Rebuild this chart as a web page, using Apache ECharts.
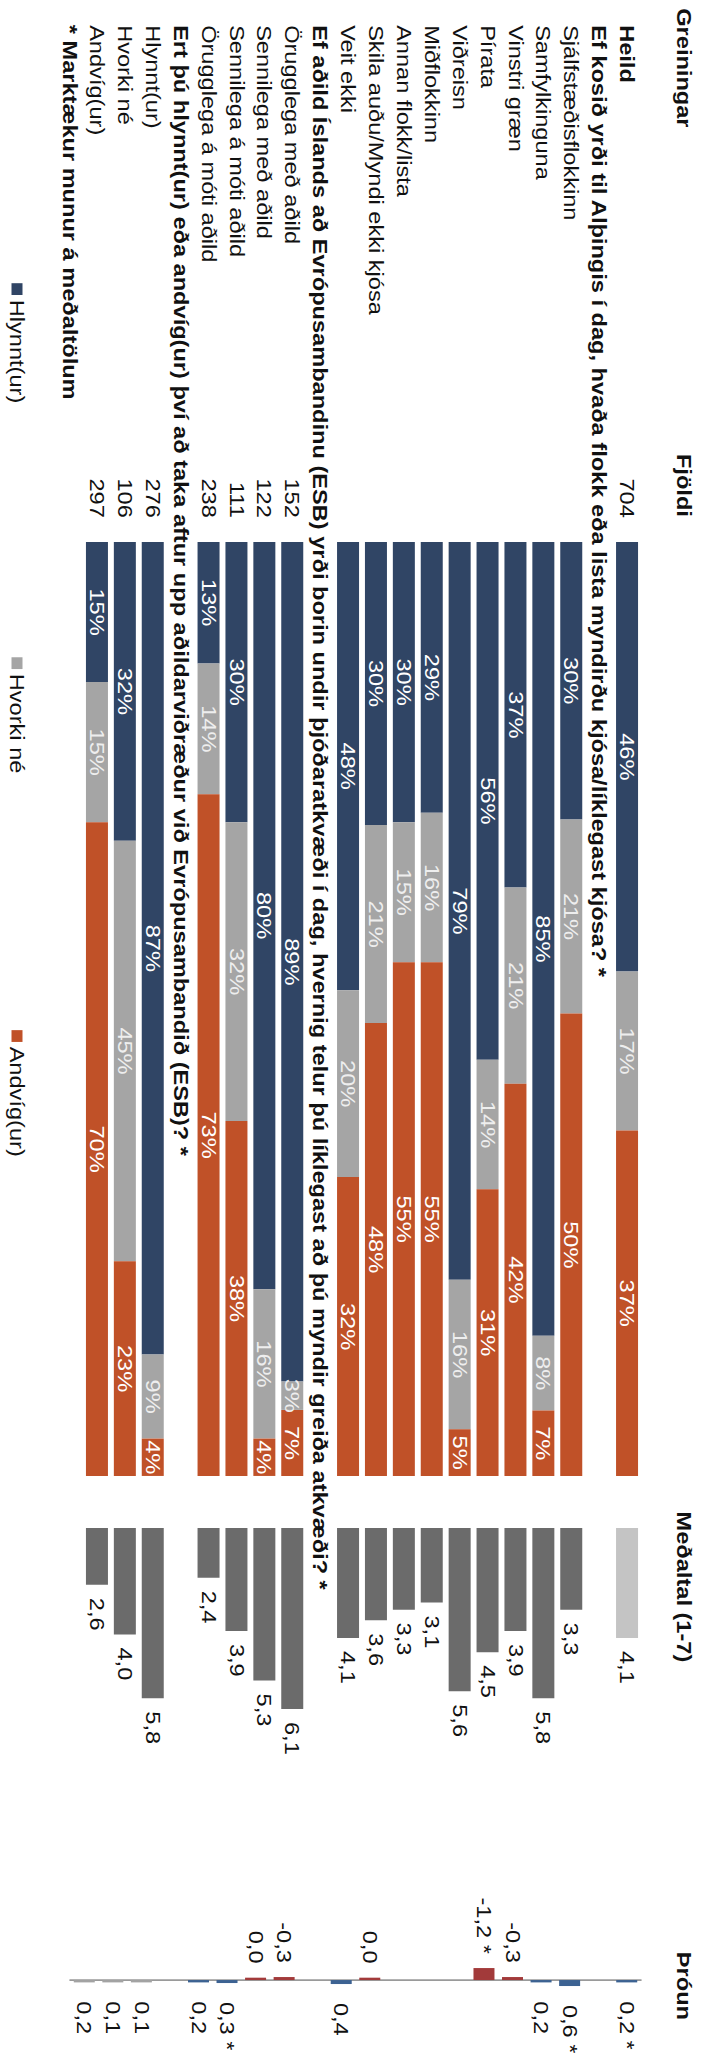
<!DOCTYPE html>
<html><head><meta charset="utf-8">
<script src="https://cdn.jsdelivr.net/npm/echarts@6/dist/echarts.min.js"></script>
<style>
html,body{margin:0;padding:0;background:#fff;overflow:hidden;width:707px;height:2071px;}
#wrap{position:absolute;left:0;top:0;width:1755px;height:707px;transform-origin:0 0;transform:translate(707px,0) rotate(90deg) scale(1.18,1);}
</style></head><body>
<div id="wrap"></div>
<script>
const categories = [
  'Heild',
  'Ef kosið yrði til Alþingis í dag, hvaða flokk eða lista myndirðu kjósa/líklegast kjósa? *',
  'Sjálfstæðisflokkinn','Samfylkinguna','Vinstri græn','Pírata','Viðreisn','Miðflokkinn',
  'Annan flokk/lista','Skila auðu/Myndi ekki kjósa','Veit ekki',
  'Ef aðild Íslands að Evrópusambandinu (ESB) yrði borin undir þjóðaratkvæði í dag, hvernig telur þú líklegast að þú myndir greiða atkvæði? *',
  'Örugglega með aðild','Sennilega með aðild','Sennilega á móti aðild','Örugglega á móti aðild',
  'Ert þú hlynnt(ur) eða andvíg(ur) því að taka aftur upp aðildarviðræður við Evrópusambandið (ESB)? *',
  'Hlynnt(ur)','Hvorki né','Andvíg(ur)'
];
const boldRows = [0, 1, 11, 16];
const counts  = [704,null,null,null,null,null,null,null,null,null,null,null,152,122,111,238,null,276,106,297];
const hlynnt  = [46,null,30,85,37,56,79,29,30,30,48,null,89,80,30,13,null,87,32,15];
const hvorki  = [17,null,21,8,21,14,16,16,15,21,20,null,3,16,32,14,null,9,45,15];
const andvig  = [37,null,50,7,42,31,5,55,55,48,32,null,7,4,38,73,null,4,23,70];
const medaltal = [4.1,null,3.3,5.8,3.9,4.5,5.6,3.1,3.3,3.6,4.1,null,6.1,5.3,3.9,2.4,null,5.8,4.0,2.6];
const throun   = [0.2,null,0.6,0.2,-0.3,-1.2,null,null,null,-0.04,0.4,null,-0.3,-0.04,0.3,0.2,null,0.1,0.1,0.2];
const throunSig = [true,false,true,false,false,true,false,false,false,false,false,false,false,false,true,false,false,false,false,false];
const seriesNames = ['Hlynnt(ur)','Hvorki né','Andvíg(ur)'];
const headers = {title:'Greiningar', count:'Fjöldi', mean:'Meðaltal (1-7)', trend:'Þróun', note:'* Marktækur munur á meðaltölum'};

const FONT = "'Liberation Sans', Arial, Helvetica, sans-serif";
const FS = 20;
const C_NAVY = '#304565', C_GREY = '#a5a5a5', C_ORANGE = '#c05128';

function seg(arr){
  return arr.map((v,i)=> v==null ? '-' : {value: v/(hlynnt[i]+hvorki[i]+andvig[i])*100, raw: v});
}
const fmt = v => v.toFixed(1).replace('.', ',');

const chart = echarts.init(document.getElementById('wrap'), null, {renderer:'svg', width:1755, height:707});

const gridTop = 66, gridBottom = 83;
const legendText = {fontSize:FS, color:'#111', fontFamily:FONT, padding:[0,0,0,-1]};
const option = {
  backgroundColor:'#fff',
  animation:false,
  textStyle:{fontFamily:FONT},
  grid:[
    {left:459.3, width:791.5, top:gridTop, bottom:gridBottom, outerBoundsMode:'none', containLabel:false},
    {left:1294.9, width:180.5, top:gridTop, bottom:gridBottom, outerBoundsMode:'none', containLabel:false},
    {left:1652.6, width:50.8, top:gridTop, bottom:70, outerBoundsMode:'none', containLabel:false}
  ],
  xAxis:[
    {gridIndex:0, type:'value', min:0, max:100, show:false},
    {gridIndex:1, type:'value', min:1, max:7, startValue:1, show:false},
    {gridIndex:2, type:'value', min:-3, max:3, show:false}
  ],
  yAxis:[
    {gridIndex:0, type:'category', data:categories, inverse:true,
     axisLine:{show:false}, axisTick:{show:false}, splitLine:{show:false},
     axisLabel:{interval:0, align:'left', margin:438, fontSize:FS, color:'#111', fontFamily:FONT,
       formatter:(v,i)=> boldRows.includes(i) ? '{b|'+v+'}' : v,
       rich:{b:{fontWeight:'bold', fontSize:FS, fontFamily:FONT, color:'#111'}}}},
    {gridIndex:0, type:'category', data:categories, inverse:true, position:'left',
     axisLine:{show:false}, axisTick:{show:false}, splitLine:{show:false},
     axisLabel:{interval:0, align:'right', margin:20.5, fontSize:FS, color:'#111', fontFamily:FONT,
       formatter:(v,i)=> counts[i]==null ? '' : String(counts[i])}},
    {gridIndex:1, type:'category', data:categories, inverse:true, show:false},
    {gridIndex:2, type:'category', data:categories, inverse:true,
     axisLine:{show:true, onZero:true, lineStyle:{color:'#9a9a9a', width:1.5}},
     axisTick:{show:false}, axisLabel:{show:false}, splitLine:{show:false}}
  ],
  legend:[
    {data:[seriesNames[0]], left:240, top:680, itemWidth:10, itemHeight:11, itemGap:0, icon:'rect', padding:0, textStyle:legendText},
    {data:[seriesNames[1]], left:557, top:680, itemWidth:10, itemHeight:11, itemGap:0, icon:'rect', padding:0, textStyle:legendText},
    {data:[seriesNames[2]], left:873, top:680, itemWidth:10, itemHeight:11, itemGap:0, icon:'rect', padding:0, textStyle:legendText}
  ],
  series:[
    {name:seriesNames[0], type:'bar', stack:'s', xAxisIndex:0, yAxisIndex:0, barWidth:22, data:seg(hlynnt),
     itemStyle:{color:C_NAVY},
     label:{show:true, position:'inside', color:'#fff', fontSize:FS, fontFamily:FONT, formatter:p=>p.data.raw+'%'}},
    {name:seriesNames[1], type:'bar', stack:'s', xAxisIndex:0, yAxisIndex:0, barWidth:22, data:seg(hvorki),
     itemStyle:{color:C_GREY},
     label:{show:true, position:'inside', color:'#eeeeee', fontSize:FS, fontFamily:FONT, formatter:p=>p.data.raw+'%'}},
    {name:seriesNames[2], type:'bar', stack:'s', xAxisIndex:0, yAxisIndex:0, barWidth:22, data:seg(andvig),
     itemStyle:{color:C_ORANGE},
     label:{show:true, position:'inside', color:'#fff', fontSize:FS, fontFamily:FONT, formatter:p=>p.data.raw+'%'}},
    {name:'Meðaltal', type:'bar', xAxisIndex:1, yAxisIndex:2, barWidth:22, clip:true,
     data:medaltal.map(v=> v==null ? '-' : v),
     itemStyle:{color:p=> p.dataIndex===0 ? '#c4c4c4' : '#6b6b6b'},
     label:{show:true, position:'right', distance:11, color:'#111', fontSize:FS, fontFamily:FONT,
       formatter:p=>fmt(p.value)}},
    {name:'Þróun', type:'bar', xAxisIndex:2, yAxisIndex:3, barWidth:21, barMinHeight:2,
     data:throun.map((v,i)=> v==null ? '-' : {value:v,
       label:{position: v<0 ? 'left' : 'right', distance: v<0 ? 12 : 16}}),
     itemStyle:{color:p=> p.dataIndex>=17 ? '#a3a3a3' : (p.value<0 ? '#a23a3a' : '#3c6292')},
     label:{show:true, color:'#111', fontSize:FS, fontFamily:FONT,
       formatter:p=> (Math.abs(p.value)<0.05 ? '0,0' : fmt(p.value)) + (throunSig[p.dataIndex] ? ' *' : '')}}
  ],
  graphic:[
    {type:'text', x:7, y:23, style:{text:headers.title, font:'bold '+FS+'px '+FONT, fill:'#111', align:'left', textAlign:'left', verticalAlign:'middle', textVerticalAlign:'middle'}},
    {type:'text', x:438, y:23, style:{text:headers.count, font:'bold '+FS+'px '+FONT, fill:'#111', align:'right', textAlign:'right', verticalAlign:'middle', textVerticalAlign:'middle'}},
    {type:'text', x:1281, y:23, style:{text:headers.mean, font:'bold '+FS+'px '+FONT, fill:'#111', align:'left', textAlign:'left', verticalAlign:'middle', textVerticalAlign:'middle'}},
    {type:'text', x:1683, y:23, style:{text:headers.trend, font:'bold '+FS+'px '+FONT, fill:'#111', align:'center', textAlign:'center', verticalAlign:'middle', textVerticalAlign:'middle'}},
    {type:'text', x:21, y:637, style:{text:headers.note, font:'bold '+FS+'px '+FONT, fill:'#111', align:'left', textAlign:'left', verticalAlign:'middle', textVerticalAlign:'middle'}}
  ]
};
chart.setOption(option);
</script>
</body></html>
